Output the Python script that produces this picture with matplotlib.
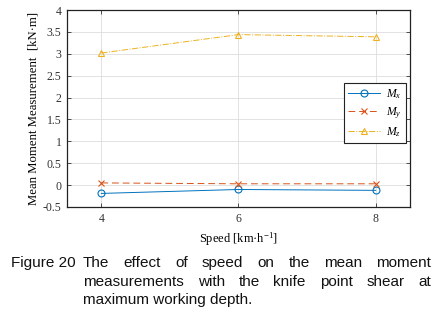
import matplotlib
matplotlib.use("Agg")
import matplotlib.pyplot as plt

speed = [4, 6, 8]
mx = [-0.19, -0.10, -0.12]
my = [0.05, 0.03, 0.03]
mz = [3.02, 3.44, 3.39]

caption_lines = [
    "The effect of speed on the mean moment",
    "measurements with the knife point shear at",
    "maximum working depth.",
]

plt.rcParams["font.family"] = "Liberation Serif"
plt.rcParams["mathtext.fontset"] = "custom"
plt.rcParams["mathtext.it"] = "Liberation Serif:italic"
plt.rcParams["mathtext.rm"] = "Liberation Serif"

fig = plt.figure(figsize=(4.38, 3.16), dpi=100)
ax = fig.add_axes([0.153, 0.345, 0.783, 0.623])

ax.plot(speed, mx, "-o", color="#0072BD", lw=0.7, ms=5, mfc="none", mew=0.8, label="$M_x$")
ax.plot(speed, my, "--x", color="#D95319", lw=0.7, ms=4, mew=0.8, label="$M_y$", dashes=(7, 4))
ax.plot(speed, mz, "-.^", color="#EDB120", lw=0.7, ms=5, mfc="none", mew=0.8, label="$M_z$")

ax.set_xlim(3.5, 8.5)
ax.set_ylim(-0.5, 4)
ax.set_xticks(speed)
ax.set_yticks([-0.5, 0, 0.5, 1, 1.5, 2, 2.5, 3, 3.5, 4])
ax.set_yticklabels(["-0.5", "0", "0.5", "1", "1.5", "2", "2.5", "3", "3.5", "4"])
ax.tick_params(direction="in", length=3, width=0.6, labelsize=8.5, top=True, right=True,
               colors="#333333", pad=4)
ax.grid(True, color="#dddddd", lw=0.6)
for s in ax.spines.values():
    s.set_linewidth(0.9)
    s.set_color("#222222")

ax.set_xlabel("Speed [km\u00b7h$^{-1}$]", fontsize=9, labelpad=4)
ax.set_ylabel("Mean Moment Measurement  [kN\u00b7m]", fontsize=9.2, labelpad=2)

leg = ax.legend(loc="upper left", bbox_to_anchor=(0.808, 0.628), fontsize=8.5,
                fancybox=False, framealpha=1, edgecolor="#222222",
                handlelength=2.7, handletextpad=0.5, borderpad=0.35, labelspacing=0.35,
                borderaxespad=0)
leg.get_frame().set_linewidth(0.8)

# caption, justified over the text block
cap_font = dict(family="Liberation Sans", fontsize=11, color="#111111")
fig.text(11 / 438, 1 - 263 / 316, "Figure 20", va="center", ha="left", **cap_font)
fig.canvas.draw()
renderer = fig.canvas.get_renderer()
x0, x1 = 83, 431
ys = [263, 282, 300]
for i, (line, y) in enumerate(zip(caption_lines, ys)):
    words = line.split()
    yf = 1 - y / 316
    if i == len(caption_lines) - 1:
        fig.text(x0 / 438, yf, line, va="center", ha="left", **cap_font)
        continue
    arts = [fig.text(0, yf, w, va="center", ha="left", **cap_font) for w in words]
    widths = [a.get_window_extent(renderer).width for a in arts]
    gap = (x1 - x0 - sum(widths)) / (len(words) - 1)
    x = x0
    for a, w in zip(arts, widths):
        a.set_x(x / 438)
        x += w + gap

fig.savefig("out.png", dpi=100)
